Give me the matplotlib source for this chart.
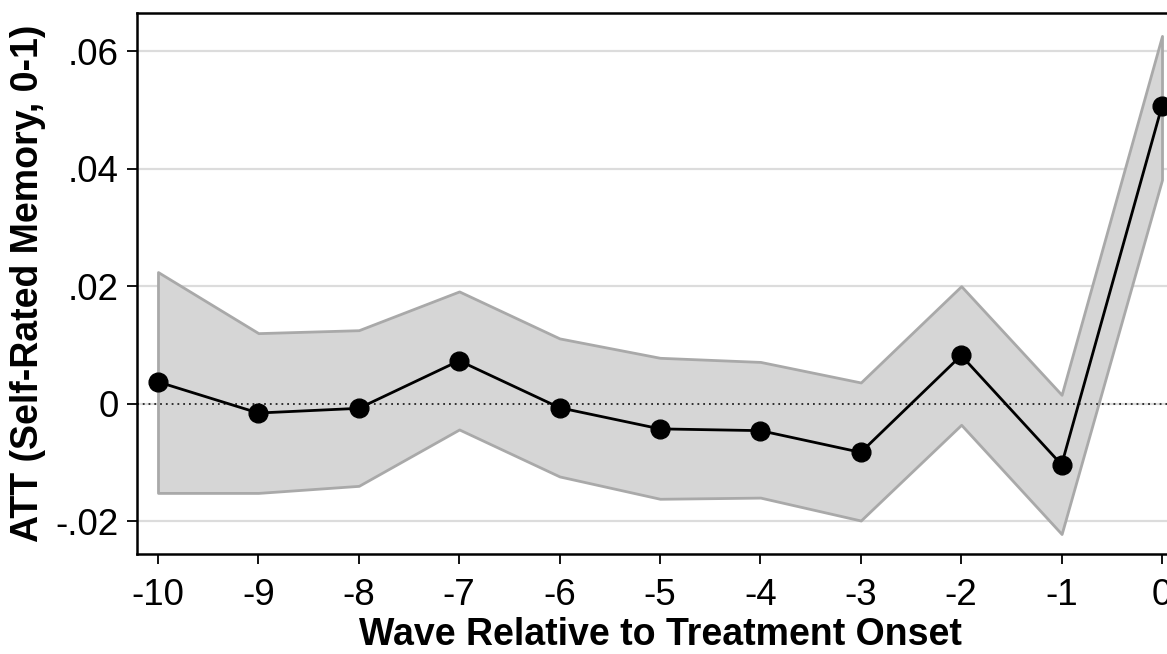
import matplotlib
matplotlib.use("Agg")
import matplotlib.pyplot as plt

plt.rcParams['font.family'] = ['Liberation Sans', 'DejaVu Sans']

waves = [-10, -9, -8, -7, -6, -5, -4, -3, -2, -1, 0]
att = [0.0037, -0.0016, -0.0008, 0.0073, -0.0007, -0.0043, -0.0046, -0.0083, 0.0082, -0.0104, 0.0507]
ci_hi = [0.0224, 0.0120, 0.0125, 0.0191, 0.0111, 0.0078, 0.0071, 0.0036, 0.0200, 0.0015, 0.0626]
ci_lo = [-0.0152, -0.0152, -0.0140, -0.0044, -0.0124, -0.0162, -0.0160, -0.0199, -0.0036, -0.0222, 0.0381]
yticks = [-0.02, 0, 0.02, 0.04, 0.06]
ytick_labels = ['-.02', '0', '.02', '.04', '.06']
xlabel = 'Wave Relative to Treatment Onset'
ylabel = 'ATT (Self-Rated Memory, 0-1)'

W, H = 1167, 654
fig = plt.figure(figsize=(W / 100, H / 100), dpi=100)
left, right, top, bottom = 137, 1183, 13, 554
ax = fig.add_axes([left / W, 1 - bottom / H, (right - left) / W, (bottom - top) / H])

ax.set_xlim(-10.209, 0.209)
ax.set_ylim(-0.0256, 0.0665)

for y in yticks:
    ax.axhline(y, color='#dcdcdc', lw=1.6, zorder=0)

ax.fill_between(waves, ci_lo, ci_hi, facecolor='#d6d6d6', edgecolor='#a9a9a9', lw=2.0, zorder=2)
ax.axhline(0, color='#222222', lw=1.3, ls=(0, (1, 2.2)), zorder=2.5)
ax.plot(waves, att, color='black', lw=2.0, marker='o', ms=13.5, mfc='black', mec='black', zorder=3)

ax.set_yticks(yticks)
ax.set_yticklabels(ytick_labels)
ax.set_xticks(waves)
ax.set_xticklabels([str(w) for w in waves])
ax.tick_params(axis='both', labelsize=26.5, length=7, width=1.3, direction='out', color='black')
ax.tick_params(axis='y', pad=6)
ax.tick_params(axis='x', pad=10)

for s in ax.spines.values():
    s.set_linewidth(1.8)

ax.set_xlabel(xlabel, fontsize=27, fontweight='bold', labelpad=3)
ax.set_ylabel(ylabel, fontsize=27, fontweight='bold', labelpad=7)

fig.savefig('out.png', dpi=100)
